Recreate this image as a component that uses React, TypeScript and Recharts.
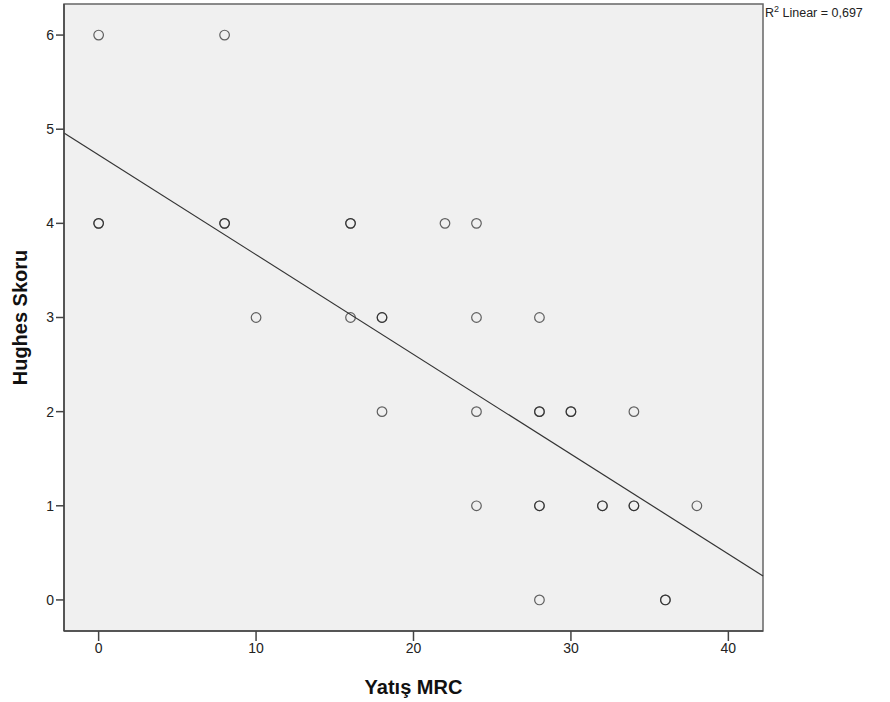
import React from "react";
import { ScatterChart, Scatter, XAxis, YAxis, ReferenceArea, ReferenceLine } from "recharts";

// Observations (Yatış MRC, Hughes Skoru); repeated entries mark overlapping cases
const mrcValues = [0, 8, 0, 0, 8, 8, 16, 16, 22, 24, 10, 16, 18, 18, 24, 28, 18, 24, 28, 28, 30, 30, 34, 24, 28, 28, 32, 32, 34, 34, 38, 28, 36, 36];
const hughesValues = [6, 6, 4, 4, 4, 4, 4, 4, 4, 4, 3, 3, 3, 3, 3, 3, 2, 2, 2, 2, 2, 2, 2, 1, 1, 1, 1, 1, 1, 1, 1, 0, 0, 0];

const xTicks = [0, 10, 20, 30, 40];
const yTicks = [0, 1, 2, 3, 4, 5, 6];
const xDomain = [-2.2, 42.2];
const yDomain = [-0.33, 6.33];

// Fit line endpoints
const fitX = [-2.2, 42.2];
const fitY = [4.96, 0.255];

const points = mrcValues.map((x, i) => ({ x, y: hughesValues[i] }));

const Ring = (props: any) => {
  const { cx, cy } = props;
  return <circle cx={cx} cy={cy} r={4.8} fill="none" stroke="#222" strokeOpacity={0.7} strokeWidth={1.2} />;
};

export default function App() {
  const font = "'Liberation Sans', Arial, sans-serif";
  return (
    <div style={{ position: "absolute", left: 0, top: 0, width: 890, height: 702, background: "#fff" }}>
      <ScatterChart width={890} height={702} margin={{ top: 4, right: 127, bottom: 0, left: 0 }}>
        <XAxis
          type="number"
          dataKey="x"
          domain={xDomain}
          ticks={xTicks}
          allowDataOverflow
          axisLine={{ stroke: "#444", strokeWidth: 1.5 }}
          tickLine={{ stroke: "#444", strokeWidth: 1.5 }}
          tickSize={10}
          tick={{ fill: "#222", fontSize: 14, fontFamily: font }}
          height={71}
          label={{ value: "Yatış MRC", position: "insideBottom", offset: 8, fill: "#111", fontSize: 20, fontWeight: "bold", fontFamily: font }}
        />
        <YAxis
          type="number"
          dataKey="y"
          domain={yDomain}
          ticks={yTicks}
          allowDataOverflow
          width={64}
          axisLine={{ stroke: "#444", strokeWidth: 1.5 }}
          tickLine={{ stroke: "#444", strokeWidth: 1.5 }}
          tickSize={8}
          tick={{ fill: "#222", fontSize: 14, fontFamily: font }}
          label={{ value: "Hughes Skoru", angle: -90, position: "insideLeft", offset: 20, fill: "#111", fontSize: 20, fontWeight: "bold", fontFamily: font, style: { textAnchor: "middle" } }}
        />
        <ReferenceArea x1={xDomain[0]} x2={xDomain[1]} y1={yDomain[0]} y2={yDomain[1]} fill="#f0f0f0" fillOpacity={1} stroke="#666" strokeWidth={1.5} />
        <ReferenceLine
          segment={[{ x: fitX[0], y: fitY[0] }, { x: fitX[1], y: fitY[1] }]}
          stroke="#333"
          strokeWidth={1.2}
        />
        <Scatter data={points} shape={<Ring />} isAnimationActive={false} />
      </ScatterChart>
      <div style={{ position: "absolute", left: 765, top: 4, fontFamily: font, fontSize: 12.5, color: "#222", whiteSpace: "nowrap" }}>
        R<sup style={{ fontSize: 9 }}>2</sup> Linear = 0,697
      </div>
    </div>
  );
}
